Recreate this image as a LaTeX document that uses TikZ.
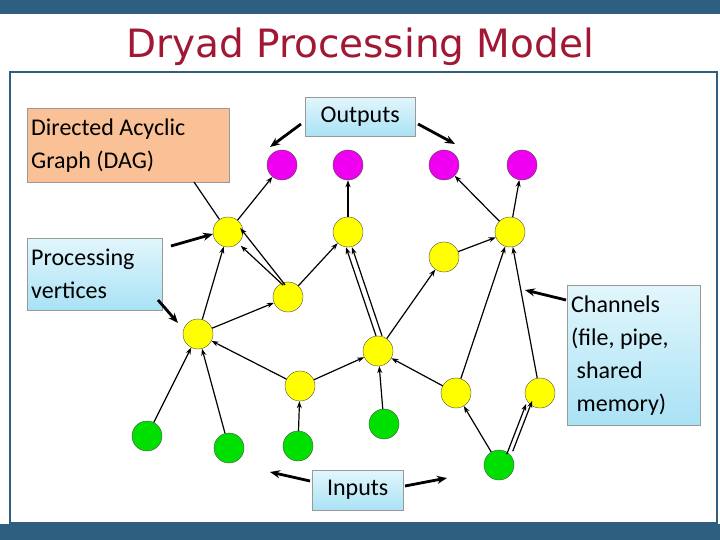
\documentclass[tikz,border=0pt]{standalone}
\usepackage{fontspec}
\setmainfont{Carlito}
\newfontfamily\titlefont{DejaVu Sans}
\usetikzlibrary{arrows.meta}
\definecolor{bar}{HTML}{2F5F80}
\definecolor{ttl}{HTML}{A01834}
\definecolor{orng}{HTML}{F9C195}
\definecolor{cyanA}{HTML}{E2F6FC}
\definecolor{cyanB}{HTML}{A9E2F5}
\definecolor{mag}{HTML}{F000F0}
\definecolor{yel}{HTML}{FFFF00}
\definecolor{grn}{HTML}{00E000}
\begin{document}
\begin{tikzpicture}[x=1pt,y=-1pt,
  v/.style={circle,draw=black!70,thin,minimum size=30pt,inner sep=0pt},
  mv/.style={v,fill=mag},yv/.style={v,fill=yel},gv/.style={v,fill=grn},
  e/.style={-{Stealth[length=7pt,width=5pt]},line width=1.2pt},
  call/.style={-{Stealth[length=10pt,width=8pt]},line width=2.8pt},
  lbl/.style={draw=black!40,font=\fontsize{24}{33}\selectfont,align=flush left,anchor=north west,inner xsep=4pt,inner ysep=3pt},
  cy/.style={lbl,top color=cyanA,bottom color=cyanB}]
\useasboundingbox (0,0) rectangle (720,540);
\fill[white] (0,0) rectangle (720,540);
\fill[bar] (0,0) rectangle (720,14);
\fill[bar] (0,524) rectangle (720,540);
\draw[bar,line width=2pt] (10,72) rectangle (717,523);
\node[font=\titlefont\fontsize{39}{44}\selectfont,text=ttl] (title) at (360,47) {Dryad Processing Model};
% nodes
\node[mv] (m1) at (282,165) {}; \node[mv] (m2) at (348,165) {};
\node[mv] (m3) at (444,165) {}; \node[mv] (m4) at (522,165) {};
\node[yv] (y1) at (228,232) {}; \node[yv] (y2) at (348,232) {};
\node[yv] (y3) at (510,232) {}; \node[yv] (y4) at (444,257) {};
\node[yv] (y5) at (288,297) {}; \node[yv] (y6) at (198,334) {};
\node[yv] (y7) at (378,351) {}; \node[yv] (y8) at (300,386) {};
\node[yv] (y9) at (456,393) {}; \node[yv] (y10) at (540,393) {};
\node[gv] (g1) at (147,436) {}; \node[gv] (g2) at (229,448) {};
\node[gv] (g3) at (298,446) {}; \node[gv] (g4) at (384,424) {};
\node[gv] (g5) at (499,465) {};
% edges
\draw[e] (y1)--(m1); \draw[e] (y2)--(m2); \draw[e] (y3)--(m3); \draw[e] (y3)--(m4);
\draw[e] ([xshift=-3pt,yshift=-3pt]y5.north)--([xshift=-3pt,yshift=4pt]y1.east);
\draw[e] ([xshift=6pt,yshift=1pt]y5.north west)--([xshift=2pt,yshift=-3pt]y1.south east);
\draw[e] (y5)--(y2); \draw[e] (y6)--(y1); \draw[e] (y6)--(y5);
\draw[e] ([xshift=-2pt]y7.north)--([xshift=-2pt]y2.south);
\draw[e] ([xshift=4pt]y7.north)--([xshift=4pt]y2.south);
\draw[e] (y7)--(y4); \draw[e] (y4)--(y3);
\draw[e] (y8)--(y6); \draw[e] (y8)--(y7);
\draw[e] (y9)--(y7); \draw[e] (y9)--(y3); \draw[e] (y10)--(y3);
\draw[e] (g1)--(y6); \draw[e] (g2)--(y6); \draw[e] (g3)--(y8); \draw[e] (g4)--(y7);
\draw[e] (g5)--(y9);
\draw[e] ([xshift=-3pt]g5.north east)--([xshift=-3pt]y10.south west);
\draw[e] ([xshift=3pt,yshift=3pt]g5.north east)--([xshift=3pt,yshift=3pt]y10.south west);
% labels
\node[lbl,fill=orng,text width=194pt,minimum height=74pt] (dag) at (27,108) {Directed Acyclic\\Graph (DAG)};
\draw[line width=1.2pt] (194,182)--(y1);
\node[cy,minimum width=110pt,minimum height=39pt,align=center] (out) at (305,97) {Outputs};
\node[cy,text width=127pt,minimum height=72pt] (proc) at (27,238) {Processing\\vertices};
\node[cy,text width=125pt,minimum height=140pt] (chan) at (567,285) {Channels\\(file, pipe,\\\ shared\\\ memory)};
\node[cy,minimum width=91pt,minimum height=40pt,align=center] (inp) at (312,470) {Inputs};
\coordinate (a1) at (270,147); \coordinate (a2) at (455,144);
\coordinate (a3) at (213,234); \coordinate (a4) at (178,323);
\coordinate (a5) at (525,290); \coordinate (a6) at (270,472); \coordinate (a7) at (447,478);
\draw[call] (301,124)--(a1); \draw[call] (418,124)--(a2);
\draw[call] (171,246)--(a3); \draw[call] (158,300)--(a4);
\draw[call] (566,300)--(a5);
\draw[call] (310,481)--(a6); \draw[call] (405,486)--(a7);
\end{tikzpicture}
\end{document}
